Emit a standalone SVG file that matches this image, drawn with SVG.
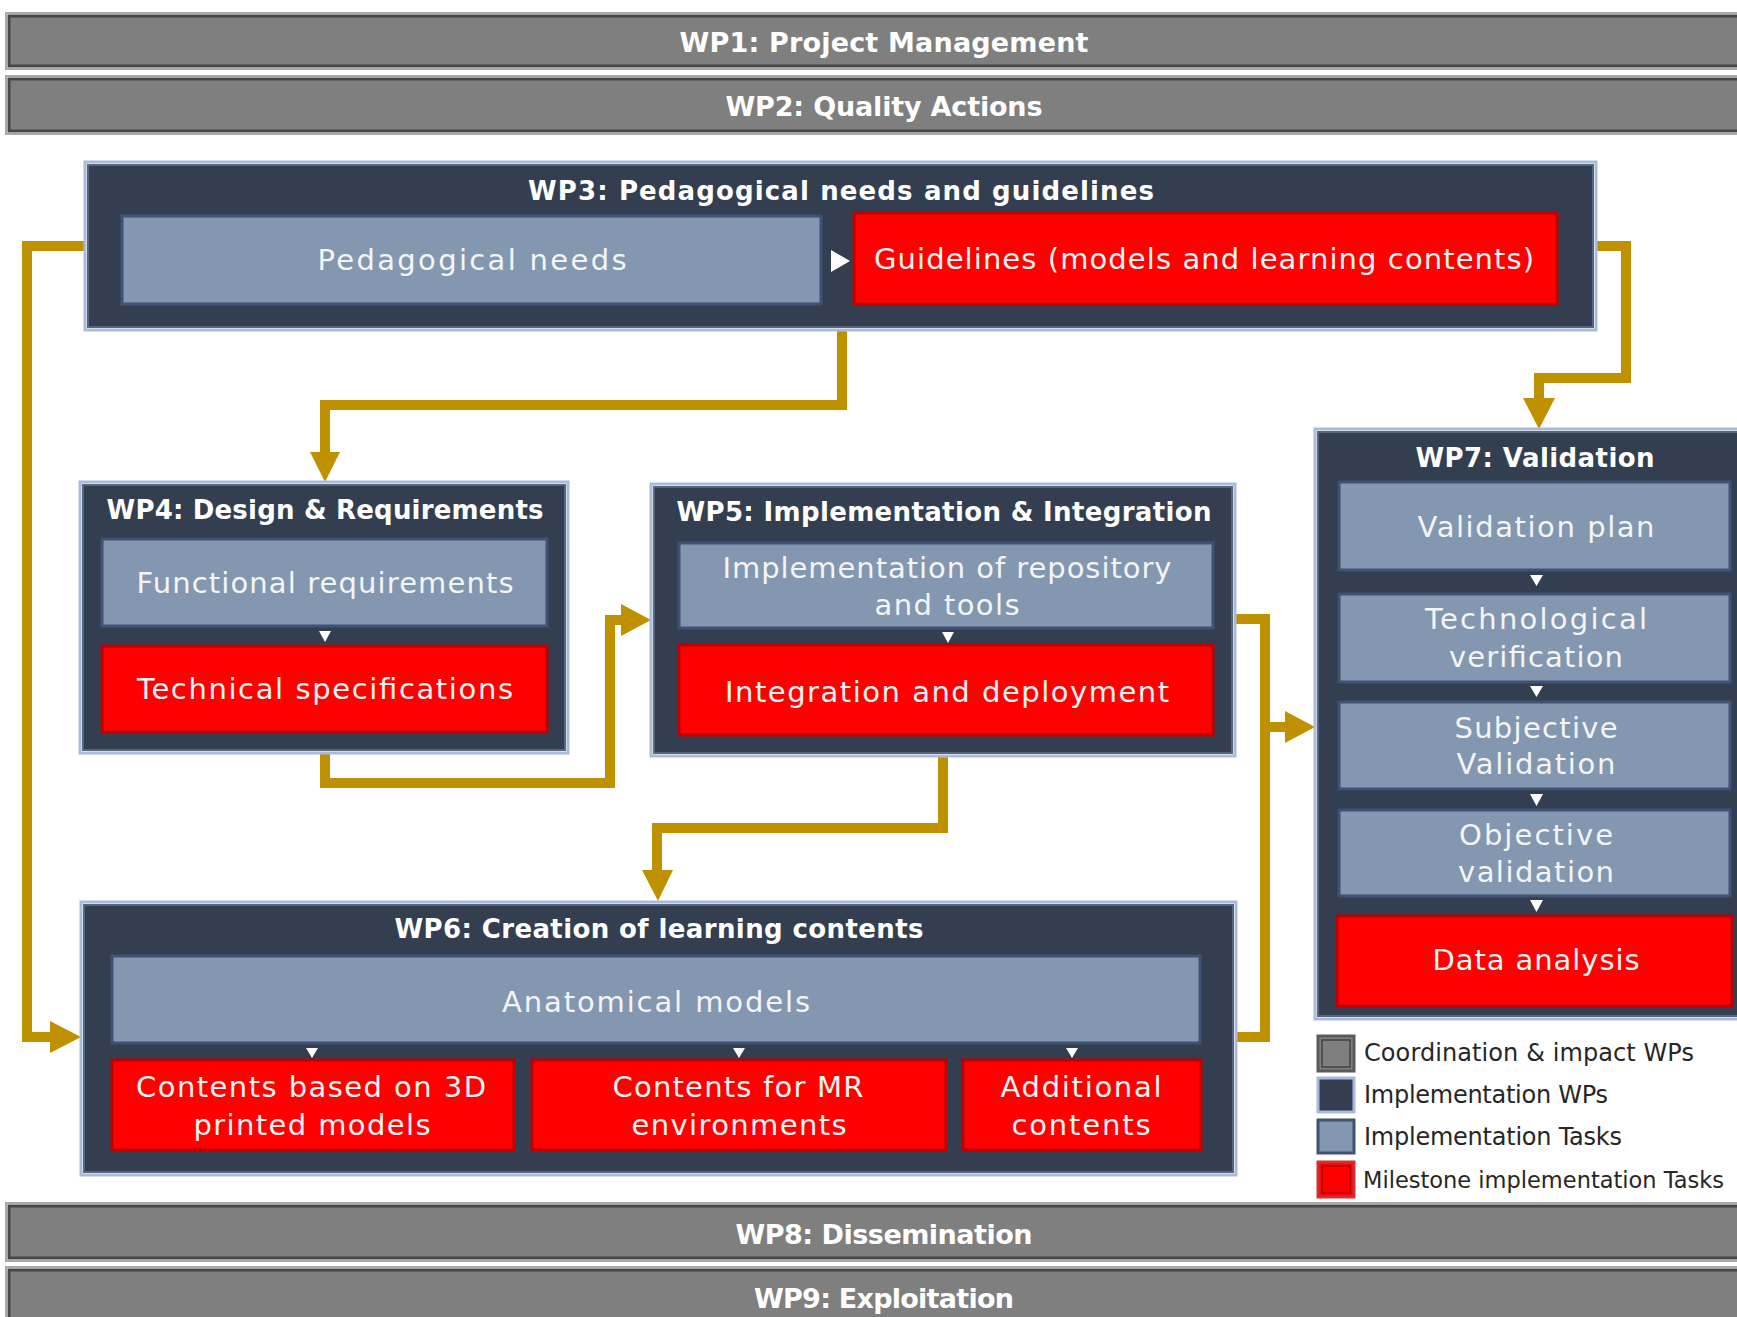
<svg xmlns="http://www.w3.org/2000/svg" width="1737" height="1317" viewBox="0 0 1737 1317">
<defs>
<style>
.bar{fill:#7f7f7f;stroke:#474747;stroke-width:3}
.barO{fill:none;stroke:#a9a9a9;stroke-width:2}
.wp{fill:#333f50;stroke:#56667f;stroke-width:2}
.wpO{fill:none;stroke:#a9bbdc;stroke-width:3}
.task{fill:#8497b0;stroke:#3f5275;stroke-width:3}
.ms{fill:#ff0000;stroke:#c00000;stroke-width:3}
.tri{fill:#ffffff}
.bt{font-family:"DejaVu Sans",sans-serif;font-weight:bold;font-size:27px;fill:#ffffff;text-anchor:middle;dominant-baseline:central}
.wt{font-family:"DejaVu Sans",sans-serif;font-weight:bold;font-size:26px;fill:#ffffff;text-anchor:middle;dominant-baseline:central}
.tt{font-family:"DejaVu Sans",sans-serif;font-size:29px;fill:#f4f4f4;text-anchor:middle;dominant-baseline:central}
.lt{font-family:"DejaVu Sans",sans-serif;font-size:24px;fill:#262626;dominant-baseline:central}
.lts{font-size:22.5px}
.con{fill:none;stroke:#bf9000;stroke-width:10;stroke-linejoin:miter;stroke-linecap:butt}
.ah{fill:#bf9000}
</style>
</defs>
<rect width="1737" height="1317" fill="#ffffff"/>

<g id="wp1">
<rect class="barO" x="6" y="13" width="1770" height="56"/>
<rect class="bar" x="9" y="16" width="1770" height="50"/>
<text class="bt" x="884" y="42" textLength="409">WP1: Project Management</text>
</g>
<g id="wp2">
<rect class="barO" x="6" y="76" width="1770" height="58"/>
<rect class="bar" x="9" y="79" width="1770" height="52"/>
<text class="bt" x="884" y="106" textLength="317">WP2: Quality Actions</text>
</g>

<g id="connectors">
<path class="con" d="M85,246 H27 V1037 H52"/>
<polygon class="ah" points="50,1021 81,1037 50,1053"/>
<path class="con" d="M842,330 V405 H325 V454"/>
<polygon class="ah" points="310,452 340,452 325,482"/>
<path class="con" d="M1596,246 H1626 V378 H1539 V400"/>
<polygon class="ah" points="1523,398 1555,398 1539,429"/>
<path class="con" d="M325,753 V783 H610 V620 H623"/>
<polygon class="ah" points="621,604 651,620 621,636"/>
<path class="con" d="M943,756 V828 H657 V872"/>
<polygon class="ah" points="642,870 673,870 658,901"/>
<path class="con" d="M1235,619 H1265 V1037 H1236"/>
<path class="con" d="M1265,727 H1287"/>
<polygon class="ah" points="1285,711 1315,727 1285,743"/>
</g>

<g id="wp3">
<rect class="wpO" x="85" y="162" width="1511" height="168"/>
<rect class="wp" x="88" y="165" width="1505" height="162"/>
<text class="wt" x="841" y="191" textLength="626">WP3: Pedagogical needs and guidelines</text>
</g>
<g id="t3-1">
<rect class="task" x="122" y="216" width="699" height="88"/>
<text class="tt" x="472" y="260" textLength="309">Pedagogical needs</text>
</g>
<polygon class="tri" points="831,250 850,261 831,272"/>
<g id="t3-2">
<rect class="ms" x="854" y="213" width="703" height="91"/>
<text class="tt" x="1204" y="259" textLength="660">Guidelines (models and learning contents)</text>
</g>

<g id="wp4">
<rect class="wpO" x="80" y="482" width="488" height="271"/>
<rect class="wp" x="83" y="485" width="482" height="265"/>
<text class="wt" x="325" y="510" textLength="437">WP4: Design &amp; Requirements</text>
</g>
<g id="t4-1">
<rect class="task" x="102" y="539" width="445" height="87"/>
<text class="tt" x="325" y="583" textLength="377">Functional requirements</text>
</g>
<polygon class="tri" points="319,631 331,631 325,642"/>
<g id="t4-2">
<rect class="ms" x="102" y="646" width="445" height="86"/>
<text class="tt" x="325" y="689" textLength="376">Technical specifications</text>
</g>

<g id="wp5">
<rect class="wpO" x="651" y="484" width="584" height="272"/>
<rect class="wp" x="654" y="487" width="578" height="266"/>
<text class="wt" x="944" y="512" textLength="535">WP5: Implementation &amp; Integration</text>
</g>
<g id="t5-1">
<rect class="task" x="679" y="543" width="534" height="85"/>
<text class="tt" x="947" y="568" textLength="449">Implementation of repository</text>
<text class="tt" x="947" y="605" textLength="145">and tools</text>
</g>
<polygon class="tri" points="942,632 954,632 948,643"/>
<g id="t5-2">
<rect class="ms" x="679" y="645" width="534" height="90"/>
<text class="tt" x="947" y="692" textLength="444">Integration and deployment</text>
</g>

<g id="wp7">
<rect class="wpO" x="1315" y="429" width="450" height="590"/>
<rect class="wp" x="1318" y="432" width="450" height="584"/>
<text class="wt" x="1535" y="458" textLength="239">WP7: Validation</text>
</g>
<g id="t7-1">
<rect class="task" x="1339" y="482" width="391" height="88"/>
<text class="tt" x="1536" y="527" textLength="237">Validation plan</text>
</g>
<polygon class="tri" points="1530,575 1543,575 1536.5,586"/>
<g id="t7-2">
<rect class="task" x="1339" y="594" width="391" height="88"/>
<text class="tt" x="1536" y="619" textLength="222">Technological</text>
<text class="tt" x="1536" y="657" textLength="174">verification</text>
</g>
<polygon class="tri" points="1530,686 1543,686 1536.5,697"/>
<g id="t7-3">
<rect class="task" x="1339" y="702" width="391" height="87"/>
<text class="tt" x="1536" y="728" textLength="163">Subjective</text>
<text class="tt" x="1536" y="764" textLength="159">Validation</text>
</g>
<polygon class="tri" points="1530,794 1543,794 1536.5,806"/>
<g id="t7-4">
<rect class="task" x="1339" y="810" width="391" height="86"/>
<text class="tt" x="1536" y="835" textLength="154">Objective</text>
<text class="tt" x="1536" y="872" textLength="156">validation</text>
</g>
<polygon class="tri" points="1530,900 1543,900 1536.5,912"/>
<g id="t7-5">
<rect class="ms" x="1337" y="916" width="395" height="90"/>
<text class="tt" x="1536" y="960" textLength="207">Data analysis</text>
</g>

<g id="wp6">
<rect class="wpO" x="81" y="902" width="1155" height="273"/>
<rect class="wp" x="84" y="905" width="1149" height="267"/>
<text class="wt" x="659" y="929" textLength="529">WP6: Creation of learning contents</text>
</g>
<g id="t6-1">
<rect class="task" x="112" y="956" width="1088" height="87"/>
<text class="tt" x="656" y="1002" textLength="308">Anatomical models</text>
</g>
<polygon class="tri" points="306,1048 318,1048 312,1058"/>
<polygon class="tri" points="733,1048 745,1048 739,1058"/>
<polygon class="tri" points="1066,1048 1078,1048 1072,1058"/>
<g id="t6-2">
<rect class="ms" x="112" y="1060" width="402" height="90"/>
<text class="tt" x="311" y="1087" textLength="350">Contents based on 3D</text>
<text class="tt" x="312" y="1125" textLength="237">printed models</text>
</g>
<g id="t6-3">
<rect class="ms" x="532" y="1060" width="414" height="90"/>
<text class="tt" x="738" y="1087" textLength="251">Contents for MR</text>
<text class="tt" x="739" y="1125" textLength="215">environments</text>
</g>
<g id="t6-4">
<rect class="ms" x="963" y="1060" width="238" height="90"/>
<text class="tt" x="1081" y="1087" textLength="161">Additional</text>
<text class="tt" x="1081" y="1125" textLength="139">contents</text>
</g>

<g id="legend">
<rect x="1318" y="1036" width="36" height="35" fill="#7f7f7f" stroke="#5a5a5a" stroke-width="3"/>
<rect x="1322" y="1040" width="28" height="27" fill="none" stroke="#404040" stroke-width="1.5"/>
<text class="lt" x="1364" y="1053" textLength="330">Coordination &amp; impact WPs</text>
<rect x="1318" y="1078" width="36" height="34" fill="#333f50" stroke="#a9bbdc" stroke-width="3"/>
<text class="lt" x="1364" y="1095" textLength="244">Implementation WPs</text>
<rect x="1318" y="1120" width="36" height="33" fill="#8497b0" stroke="#3f5275" stroke-width="3"/>
<text class="lt" x="1364" y="1137" textLength="258">Implementation Tasks</text>
<rect x="1318" y="1162" width="36" height="35" fill="#ff0000" stroke="#d03030" stroke-width="3"/>
<rect x="1322" y="1166" width="28" height="27" fill="none" stroke="#b00000" stroke-width="1.5"/>
<text class="lt lts" x="1363" y="1180">Milestone implementation Tasks</text>
</g>

<g id="wp8">
<rect class="barO" x="6" y="1203" width="1770" height="58"/>
<rect class="bar" x="9" y="1206" width="1770" height="52"/>
<text class="bt" x="884" y="1234" textLength="297">WP8: Dissemination</text>
</g>
<g id="wp9">
<rect class="barO" x="6" y="1267" width="1770" height="70"/>
<rect class="bar" x="9" y="1270" width="1770" height="64"/>
<text class="bt" x="884" y="1298" textLength="260">WP9: Exploitation</text>
</g>
</svg>
